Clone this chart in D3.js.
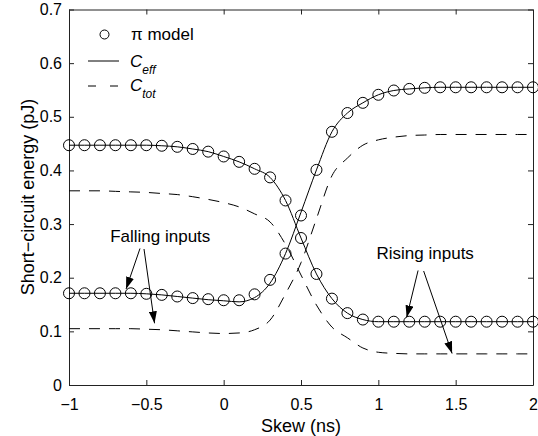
<!DOCTYPE html>
<html>
<head>
<meta charset="utf-8">
<script src="https://cdn.jsdelivr.net/npm/d3@7"></script>
<style>
    body { margin: 0; background: #fff; }
    svg text { font-family: "Liberation Sans", Arial, Helvetica, sans-serif; fill: #000; }
    .axis path, .axis line { stroke: #222; }
</style>
</head>
<body>
<svg id="chart" width="538" height="436"></svg>
<script>

// skew values (ns), one per pi-model point
let skew = [-1, -0.9, -0.8, -0.7, -0.6, -0.5, -0.4, -0.3, -0.2, -0.1, 0, 0.1, 0.2, 0.3, 0.4, 0.5,
    0.6, 0.7, 0.8, 0.9, 1, 1.1, 1.2, 1.3, 1.4, 1.5, 1.6, 1.7, 1.8, 1.9, 2];

// falling inputs (low at left, high at right)
let piFall = [0.171, 0.171, 0.171, 0.171, 0.171, 0.170, 0.168, 0.165, 0.162, 0.160, 0.158, 0.158, 0.169, 0.196, 0.245, 0.316,
    0.401, 0.472, 0.507, 0.526, 0.541, 0.549, 0.552, 0.554, 0.555, 0.555, 0.555, 0.555, 0.555, 0.555, 0.555];
let ceffFall = [0.171, 0.171, 0.171, 0.171, 0.171, 0.170, 0.168, 0.165, 0.162, 0.159, 0.157, 0.155, 0.163, 0.190, 0.245, 0.322,
    0.401, 0.472, 0.507, 0.526, 0.541, 0.549, 0.552, 0.554, 0.555, 0.555, 0.555, 0.555, 0.555, 0.555, 0.555];
let ctotFall = [0.105, 0.105, 0.105, 0.105, 0.105, 0.104, 0.103, 0.101, 0.099, 0.097, 0.096, 0.097, 0.103, 0.121, 0.170, 0.228,
    0.310, 0.390, 0.423, 0.447, 0.457, 0.462, 0.465, 0.466, 0.467, 0.467, 0.467, 0.467, 0.467, 0.467, 0.467];

// rising inputs (high at left, low at right)
let piRise = [0.447, 0.447, 0.447, 0.447, 0.447, 0.447, 0.446, 0.444, 0.440, 0.435, 0.426, 0.416, 0.403, 0.387, 0.344, 0.274,
    0.207, 0.161, 0.134, 0.122, 0.118, 0.118, 0.118, 0.118, 0.118, 0.118, 0.118, 0.118, 0.118, 0.118, 0.118];
let ceffRise = [0.447, 0.447, 0.447, 0.447, 0.447, 0.447, 0.446, 0.444, 0.440, 0.435, 0.426, 0.416, 0.403, 0.387, 0.344, 0.274,
    0.207, 0.161, 0.134, 0.122, 0.118, 0.118, 0.118, 0.118, 0.118, 0.118, 0.118, 0.118, 0.118, 0.118, 0.118];
let ctotRise = [0.362, 0.362, 0.362, 0.361, 0.360, 0.359, 0.357, 0.355, 0.351, 0.346, 0.340, 0.332, 0.319, 0.304, 0.262, 0.205,
    0.149, 0.108, 0.088, 0.069, 0.061, 0.059, 0.058, 0.058, 0.058, 0.058, 0.058, 0.058, 0.058, 0.058, 0.058];

let xTicks = [-1, -0.5, 0, 0.5, 1, 1.5, 2];
let yTicks = [0, 0.1, 0.2, 0.3, 0.4, 0.5, 0.6, 0.7];

// annotations in data units
let notes = [
    {label: "Falling inputs", x: -0.41, y: 0.267,
        arrows: [[-0.541, 0.2545, -0.631, 0.179], [-0.515, 0.2535, -0.447, 0.115]]},
    {label: "Rising inputs", x: 1.303, y: 0.234,
        arrows: [[1.257, 0.2135, 1.183, 0.126], [1.293, 0.2125, 1.477, 0.0587]]}
];

let svg = d3.select("#chart");
let xScale = d3.scaleLinear().domain([-1, 2]).range([69, 533]);
let yScale = d3.scaleLinear().domain([0, 0.7]).range([385, 9.5]);

svg.append("defs").append("marker").attr("id", "head").attr("viewBox", "0 0 12 8")
    .attr("refX", 12).attr("refY", 4).attr("markerWidth", 12).attr("markerHeight", 8)
    .attr("markerUnits", "userSpaceOnUse").attr("orient", "auto")
    .append("path").attr("d", "M0,0L12,4L0,8Z").attr("fill", "#000");

let fmt = d => d === 0 ? "0" : d3.format("")(d);

svg.append("g").classed("axis", true).attr("transform", "translate(0,385)")
    .call(d3.axisBottom(xScale).tickValues(xTicks).tickFormat(fmt).tickSizeInner(-5).tickSizeOuter(0).tickPadding(14))
    .selectAll("text").style("font-size", "16px");
svg.append("g").classed("axis", true).attr("transform", "translate(0,9.5)")
    .call(d3.axisTop(xScale).tickValues(xTicks).tickFormat("").tickSizeInner(-5).tickSizeOuter(0));
svg.append("g").classed("axis", true).attr("transform", "translate(69,0)")
    .call(d3.axisLeft(yScale).tickValues(yTicks).tickFormat(fmt).tickSizeInner(-5).tickSizeOuter(0).tickPadding(7))
    .selectAll("text").style("font-size", "16px");
svg.append("g").classed("axis", true).attr("transform", "translate(533,0)")
    .call(d3.axisRight(yScale).tickValues(yTicks).tickFormat("").tickSizeInner(-5).tickSizeOuter(0));
svg.selectAll(".axis text").attr("font-family", null);

svg.append("text").attr("x", 301).attr("y", 432).attr("text-anchor", "middle")
    .style("font-size", "18px").text("Skew (ns)");
svg.append("text").attr("transform", "translate(34,197) rotate(-90)").attr("text-anchor", "middle")
    .style("font-size", "18px").text("Short\u2212circuit energy (pJ)");

let line = d3.line().x((d, i) => xScale(skew[i])).y(d => yScale(d)).curve(d3.curveMonotoneX);

[ctotFall, ctotRise].forEach(s => {
    svg.append("path").attr("d", line(s)).attr("fill", "none").attr("stroke", "#000")
        .attr("stroke-width", 1).attr("stroke-dasharray", "11,9");
});
[ceffFall, ceffRise].forEach(s => {
    svg.append("path").attr("d", line(s)).attr("fill", "none").attr("stroke", "#000").attr("stroke-width", 1);
});
[piFall, piRise].forEach(s => {
    svg.append("g").selectAll("circle").data(s).join("circle")
        .attr("cx", (d, i) => xScale(skew[i])).attr("cy", d => yScale(d)).attr("r", 5.5)
        .attr("fill", "none").attr("stroke", "#000").attr("stroke-width", 1);
});

notes.forEach(n => {
    svg.append("text").attr("x", xScale(n.x)).attr("y", yScale(n.y)).attr("text-anchor", "middle")
        .style("font-size", "17px").text(n.label);
    n.arrows.forEach(a => {
        svg.append("line").attr("x1", xScale(a[0])).attr("y1", yScale(a[1]))
            .attr("x2", xScale(a[2])).attr("y2", yScale(a[3]))
            .attr("stroke", "#000").attr("stroke-width", 1).attr("marker-end", "url(#head)");
    });
});

// legend
let legend = svg.append("g");
legend.append("circle").attr("cx", 104.5).attr("cy", 34.5).attr("r", 4.5)
    .attr("fill", "none").attr("stroke", "#000");
legend.append("text").attr("x", 131).attr("y", 40).style("font-size", "17px").text("\u03c0 model");
legend.append("line").attr("x1", 88).attr("x2", 119).attr("y1", 61).attr("y2", 61).attr("stroke", "#000");
legend.append("line").attr("x1", 88).attr("x2", 119).attr("y1", 86).attr("y2", 86).attr("stroke", "#000")
    .attr("stroke-dasharray", "8,14");
let ceffText = legend.append("text").attr("x", 130).attr("y", 67).style("font-size", "17px");
ceffText.append("tspan").style("font-style", "italic").text("C");
ceffText.append("tspan").attr("dy", 7).style("font-style", "italic").style("font-size", "12px").text("eff");
let ctotText = legend.append("text").attr("x", 130).attr("y", 91).style("font-size", "17px");
ctotText.append("tspan").style("font-style", "italic").text("C");
ctotText.append("tspan").attr("dy", 7).style("font-style", "italic").style("font-size", "12px").text("tot");

</script>
</body>
</html>
